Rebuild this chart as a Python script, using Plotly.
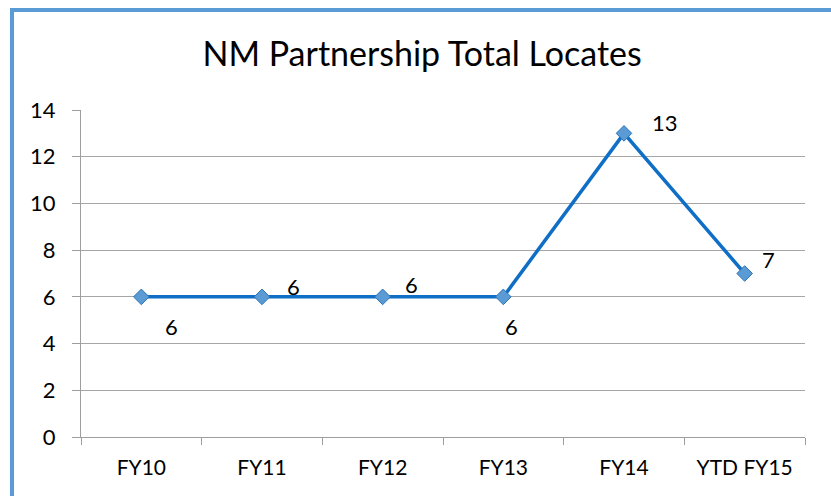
import plotly.graph_objects as go

categories = ["FY10", "FY11", "FY12", "FY13", "FY14", "YTD FY15"]
values = [6, 6, 6, 6, 13, 7]
label_shift_x = [30, 31, 29, 8, 41, 24]
label_shift_y = [-30, 10, 12, -30, 11, 14]

FONT = "Lato"
fig = go.Figure()
fig.add_trace(go.Scatter(
    x=categories, y=values, mode="lines+markers",
    line=dict(color="#0F6FC6", width=3.5),
    marker=dict(symbol="diamond", size=12, color="#5B9BD5",
                line=dict(color="#2E75B6", width=1)),
    hoverinfo="skip", showlegend=False,
))
for c, v, dx, dy in zip(categories, values, label_shift_x, label_shift_y):
    fig.add_annotation(x=c, y=v, text=str(v), showarrow=False,
                       xshift=dx, yshift=dy,
                       font=dict(family=FONT, size=22, color="black"))

fig.add_shape(type="rect", xref="paper", yref="paper",
              x0=-0.0953, x1=1.06, y0=-0.25, y1=1.3058,
              line=dict(color="#5B9BD5", width=4), layer="below")

fig.update_layout(
    width=831, height=496,
    margin=dict(l=81, r=26, t=110, b=59),
    paper_bgcolor="white", plot_bgcolor="white",
    title=dict(text="NM Partnership Total Locates", x=0.508, xanchor="center",
               y=0.89, yanchor="middle",
               font=dict(family=FONT, size=34, color="black")),
    xaxis=dict(type="category", range=[-0.5, 5.5], showgrid=False,
               showline=True, linecolor="#9E9E9E", linewidth=1,
               ticks="outside", tickson="boundaries", ticklen=7, tickcolor="#9E9E9E",
               ticklabelstandoff=12,
               tickfont=dict(family=FONT, size=21, color="black"), fixedrange=True),
    yaxis=dict(range=[0, 14], dtick=2, showgrid=True, gridcolor="#A6A6A6", gridwidth=1,
               showline=True, linecolor="#9E9E9E", linewidth=1,
               ticks="outside", ticklen=8, tickcolor="#9E9E9E", zeroline=False,
               ticklabelstandoff=12,
               tickfont=dict(family=FONT, size=22, color="black"), fixedrange=True),
)
fig.write_html("out.html", config={"displayModeBar": False, "staticPlot": True},
               post_script="document.body.style.margin='0';")
